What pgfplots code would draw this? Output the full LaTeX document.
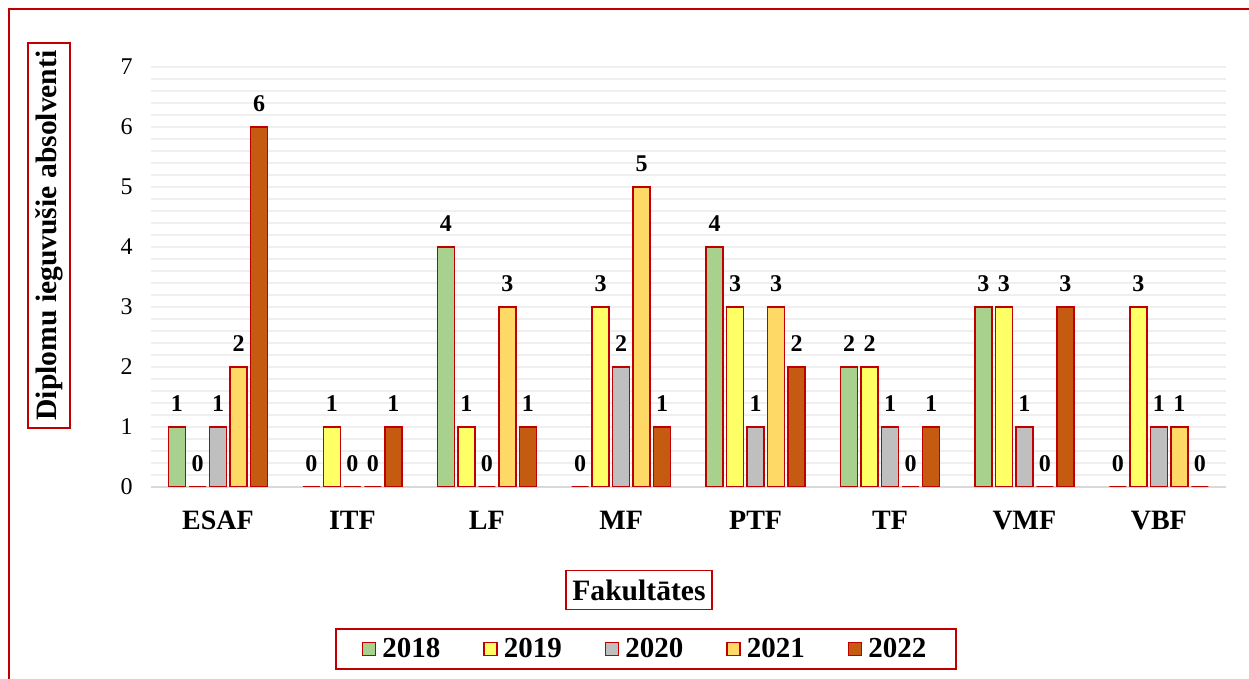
\documentclass[border=0pt]{standalone}
\usepackage{fontspec}
\setmainfont{Liberation Serif}
\usepackage{pgfplots}
\usepackage{pgfplotstable}
\pgfplotsset{compat=1.18}

\definecolor{c18}{HTML}{A9D18E}
\definecolor{c19}{HTML}{FFFF66}
\definecolor{c20}{HTML}{BFBFBF}
\definecolor{c21}{HTML}{FFD966}
\definecolor{c22}{HTML}{C55A11}
\definecolor{frame}{HTML}{C00000}
\definecolor{gridc}{HTML}{EFEFEF}
\definecolor{axc}{HTML}{D9D9D9}

% faculties 0..7: ESAF ITF LF MF PTF TF VMF VBF
\pgfplotstableread{
x y18 y19 y20 y21 y22
0 1 0 1 2 6
1 0 1 0 0 1
2 4 1 0 3 1
3 0 3 2 5 1
4 4 3 1 3 2
5 2 2 1 0 1
6 3 3 1 0 3
7 0 3 1 1 0
}\data

\begin{document}
\begin{tikzpicture}
\useasboundingbox (0pt,0pt) rectangle (624.5pt,339.5pt);
\draw[frame, line width=0.8pt] (4.5pt,0pt) -- (4.5pt,335pt) -- (624.5pt,335pt);

\node[draw=frame, line width=0.8pt, rotate=90, font=\bfseries\fontsize{14.8}{17}\selectfont,
      inner sep=2pt, minimum width=192.5pt, minimum height=21pt] at (24.5pt,221.75pt) {Diplomu ieguvušie absolventi};
\node[draw=frame, line width=0.8pt, font=\bfseries\fontsize{14.8}{17}\selectfont,
      inner sep=3pt, minimum width=73pt, minimum height=19.5pt] at (319.5pt,44.5pt) {Fakultātes};

\begin{axis}[
  at={(75.4pt,96pt)}, anchor=south west,
  scale only axis, width=537.6pt, height=210pt,
  ybar, bar width=8.5pt,
  xmin=-0.5, xmax=7.5, ymin=0, ymax=7,
  xtick={0,...,7}, xticklabels={ESAF,ITF,LF,MF,PTF,TF,VMF,VBF},
  ytick={0,...,7}, minor y tick num=4,
  ymajorgrids, yminorgrids,
  major grid style={gridc, line width=0.85pt},
  minor grid style={gridc, line width=0.85pt},
  axis x line*=bottom, axis y line*=left,
  x axis line style={axc, line width=1pt, -},
  y axis line style={draw=none},
  major tick length=0pt, minor tick length=0pt,
  /pgf/number format/assume math mode=true,
  yticklabel style={font=\fontsize{12}{14}\selectfont, xshift=-5.6pt},
  xticklabel style={font=\bfseries\fontsize{14}{16}\selectfont, yshift=-8.5pt},
  every axis plot/.append style={draw=frame, line width=0.75pt},
  nodes near coords,
  every node near coord/.append style={font=\bfseries\fontsize{12}{14}\selectfont, yshift=3.8pt, text=black},
  legend columns=5,
  legend style={at={(0.4606,-0.386)}, anchor=center, draw=frame, line width=0.8pt,
    font=\bfseries\fontsize{14.5}{16}\selectfont, inner xsep=13pt, inner ysep=2.5pt,
    /tikz/every odd column/.append style={column sep=1pt},
    /tikz/every even column/.append style={column sep=19.5pt}},
  legend image code/.code={\draw[#1, line width=0.75pt] (0pt,-3.25pt) rectangle (6.5pt,3.25pt);},
]
\addplot[fill=c18, bar shift=-20.5pt] table[x=x, y=y18] {\data};
\addlegendentry{2018}
\addplot[fill=c19, bar shift=-10.25pt] table[x=x, y=y19] {\data};
\addlegendentry{2019}
\addplot[fill=c20, bar shift=0pt] table[x=x, y=y20] {\data};
\addlegendentry{2020}
\addplot[fill=c21, bar shift=10.25pt] table[x=x, y=y21] {\data};
\addlegendentry{2021}
\addplot[fill=c22, bar shift=20.5pt] table[x=x, y=y22] {\data};
\addlegendentry{2022}
\end{axis}
\end{tikzpicture}
\end{document}
